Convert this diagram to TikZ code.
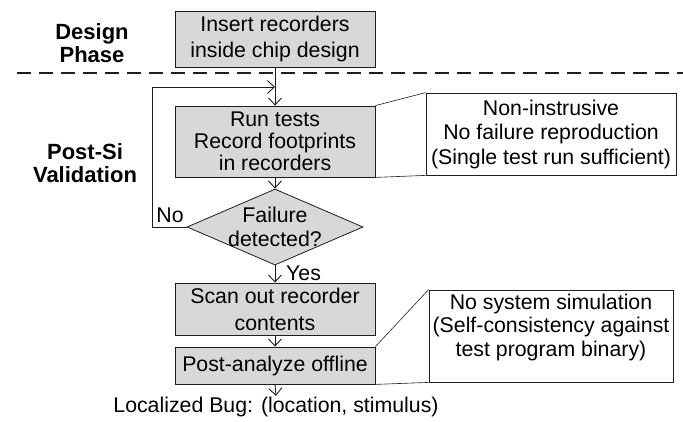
\documentclass[tikz,border=0pt]{standalone}
\usepackage{fontspec}
\setmainfont{Liberation Sans}
\usetikzlibrary{shapes.geometric,arrows.meta}
\definecolor{boxgray}{RGB}{216,216,216}
\definecolor{ink}{RGB}{30,30,30}
\begin{document}
\begin{tikzpicture}[x=1pt,y=-1pt,
  font=\fontsize{21.3}{24}\selectfont,
  stepbox/.style={draw=ink, fill=boxgray, line width=0.8pt, minimum width=200pt,
                  align=center, inner sep=0pt},
  note/.style={draw=ink, fill=white, line width=0.8pt, inner sep=0pt, align=center},
  arr/.style={draw=ink, line width=0.9pt, -{Straight Barb[length=7pt,width=13pt]}},
  link/.style={draw=ink, line width=0.6pt},
  phase/.style={font=\fontsize{22}{23}\selectfont\bfseries, align=center},
  lbl/.style={inner sep=0pt}]

\useasboundingbox (0,0) rectangle (683,421);

% phase labels
\node[phase] (dp) at (92,43) {Design\\Phase};
\node[phase] (pv) at (85,163) {Post-Si\\Validation};

% separator between the two phases
\coordinate (dl) at (17,73);
\coordinate (dr) at (683,73);
\draw[ink, line width=1.3pt, dash pattern=on 14pt off 8pt] (dl) -- (dr);

% flow steps
\node[stepbox, minimum height=56pt, font=\fontsize{21.3}{26}\selectfont] (b1) at (275,39)
  {Insert recorders\\inside chip design};
\node[stepbox, minimum height=71pt, font=\fontsize{21.3}{22}\selectfont] (b2) at (275,141.5)
  {Run tests\\Record footprints\\in recorders};
\node[diamond, draw=ink, fill=boxgray, line width=0.8pt, minimum width=176pt,
      minimum height=76pt, inner sep=0pt] (d) at (275,227) {};
\node[lbl, align=center] (dt) at (275,227) {Failure\\detected?};
\node[stepbox, minimum height=52pt, font=\fontsize{21.3}{27}\selectfont] (b3) at (275,309)
  {Scan out recorder\\contents};
\node[stepbox, minimum height=37pt] (b4) at (275,365.5) {Post-analyze offline};
\node[inner sep=1pt] (out) at (276,407) {Localized Bug: (location, stimulus)};

% connectors
\draw[arr] (b1.south) -- (b2.north);
\draw[arr] (b2.south) -- (d.north);
\draw[arr] (d.south) -- (b3.north);
\draw[arr] (b3.south) -- (b4.north);
\draw[arr] (b4.south) -- (out.north);

% feedback loop on "No"
\coordinate (lx) at (152,0);
\coordinate (jy) at (0,87);
\coordinate (j) at (b1.south |- jy);
\draw[arr] (d.west) -- (d.west -| lx) -- (lx |- jy) -- (j);
\node[lbl] (no) at (170,215) {No};
\node[lbl, anchor=west] (yes) at (286,273) {Yes};

% callouts
\node[note, minimum width=250pt, minimum height=82pt, font=\fontsize{21.3}{24.5}\selectfont]
  (c1) at (551,134) {Non-instrusive\\No failure reproduction\\(Single test run sufficient)};
\draw[link] (b2.north east) -- (c1.north west);
\draw[link] (b2.south east) -- (c1.south west);

\node[note, minimum width=244pt, minimum height=92pt] (c2) at (551,336) {};
\node[lbl, align=center, font=\fontsize{21.3}{23.5}\selectfont] (c2t) at (551,327)
  {No system simulation\\(Self-consistency against\\test program binary)};
\draw[link] (b4.north east) -- (c2.north west);
\draw[link] (b4.south east) -- (c2.south west);
\end{tikzpicture}
\end{document}
